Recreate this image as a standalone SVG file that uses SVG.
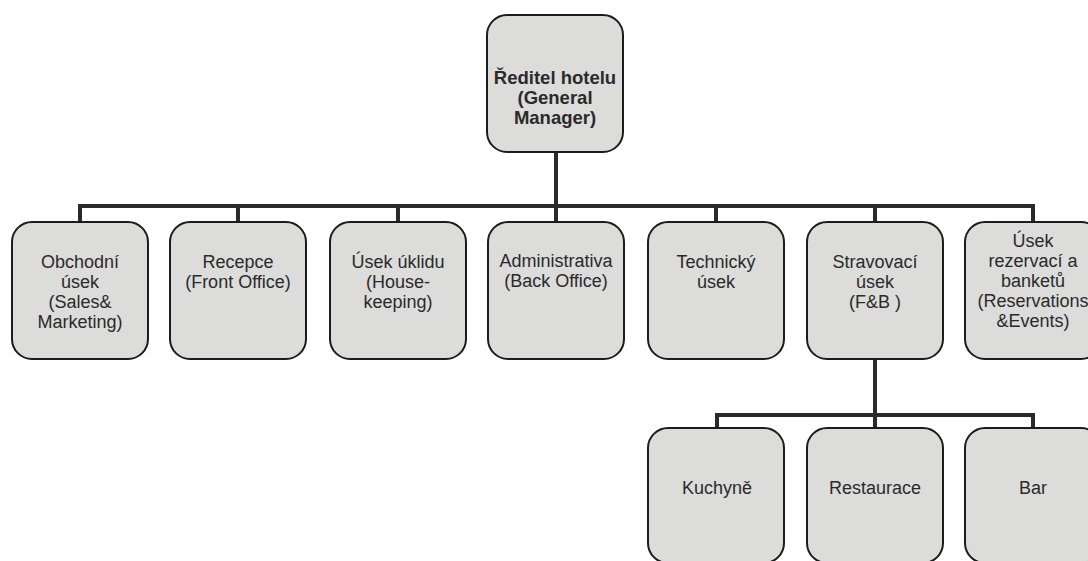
<svg xmlns="http://www.w3.org/2000/svg" width="1088" height="561" viewBox="0 0 1088 561">
<style>
.box{fill:#dcdcdb;stroke:#1c1c1c;stroke-width:2}
.t{font-family:"Liberation Sans",Arial,sans-serif;font-size:18px;fill:#2a2a2a;text-anchor:middle}
.b{font-weight:bold;font-size:18.5px}
.c{fill:none;stroke:#2a2a2a;stroke-width:4}
</style>
<rect width="1088" height="561" fill="#ffffff"/>
<g id="connectors">
<path class="c" d="M556 152V206M80 222V206H1033V222M238 206V222M398 206V222M556 206V222M716 206V222M875 206V222"/>
<path class="c" d="M875 359V415M717 428V415H1033V428M875 415V428"/>
</g>
<g id="gm">
<rect class="box" x="487" y="15" width="136" height="137" rx="20"/>
<text class="t b" x="555" y="84">Ředitel hotelu</text>
<text class="t b" x="555" y="104">(General</text>
<text class="t b" x="555" y="124">Manager)</text>
</g>
<g id="sales">
<rect class="box" x="12" y="222" width="136" height="137" rx="20"/>
<text class="t" x="80" y="268">Obchodní</text>
<text class="t" x="80" y="288">úsek</text>
<text class="t" x="80" y="308">(Sales&amp;</text>
<text class="t" x="80" y="328">Marketing)</text>
</g>
<g id="recepce">
<rect class="box" x="170" y="222" width="136" height="137" rx="20"/>
<text class="t" x="238" y="268">Recepce</text>
<text class="t" x="238" y="288">(Front Office)</text>
</g>
<g id="uklid">
<rect class="box" x="330" y="222" width="136" height="137" rx="20"/>
<text class="t" x="398" y="268">Úsek úklidu</text>
<text class="t" x="398" y="288">(House-</text>
<text class="t" x="398" y="308">keeping)</text>
</g>
<g id="admin">
<rect class="box" x="488" y="222" width="136" height="137" rx="20"/>
<text class="t" x="556" y="267">Administrativa</text>
<text class="t" x="556" y="287">(Back Office)</text>
</g>
<g id="tech">
<rect class="box" x="648" y="222" width="136" height="137" rx="20"/>
<text class="t" x="716" y="268">Technický</text>
<text class="t" x="716" y="288">úsek</text>
</g>
<g id="fb">
<rect class="box" x="807" y="222" width="136" height="137" rx="20"/>
<text class="t" x="875" y="268">Stravovací</text>
<text class="t" x="875" y="288">úsek</text>
<text class="t" x="875" y="308">(F&amp;B )</text>
</g>
<g id="rez">
<rect class="box" x="965" y="222" width="136" height="137" rx="20"/>
<text class="t" x="1033" y="247">Úsek</text>
<text class="t" x="1033" y="267">rezervací a</text>
<text class="t" x="1033" y="287">banketů</text>
<text class="t" x="1033" y="307">(Reservations</text>
<text class="t" x="1033" y="327">&amp;Events)</text>
</g>
<g id="kuchyne">
<rect class="box" x="648" y="428" width="136" height="135" rx="20"/>
<text class="t" x="717" y="494">Kuchyně</text>
</g>
<g id="restaurace">
<rect class="box" x="807" y="428" width="136" height="135" rx="20"/>
<text class="t" x="875" y="494">Restaurace</text>
</g>
<g id="bar">
<rect class="box" x="965" y="428" width="136" height="135" rx="20"/>
<text class="t" x="1033" y="494">Bar</text>
</g>
</svg>
